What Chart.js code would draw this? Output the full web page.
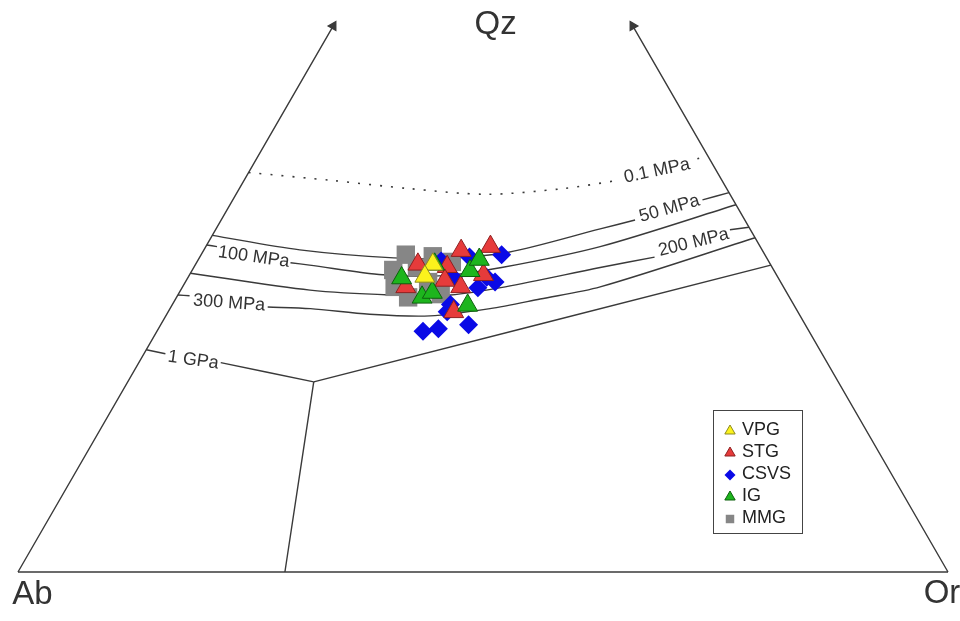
<!DOCTYPE html>
<html>
<head>
<meta charset="utf-8">
<title>Qz-Ab-Or</title>
<script src="https://cdn.jsdelivr.net/npm/chart.js@4.4.1/dist/chart.umd.min.js"></script>
<style>
  html, body { margin: 0; padding: 0; background: #fff; }
</style>
</head>
<body>
<canvas id="chart" width="960" height="621"></canvas>
<script>
// every point is [Qz, Or] in %, Ab = 100 - Qz - Or
const seriesNames = ['VPG', 'STG', 'CSVS', 'IG', 'MMG'];

const vpg = [[38.2, 25.5], [36.7, 25.4]];
const stg = [[38.2, 23.9], [37.9, 27.2], [39.9, 27.7], [40.4, 30.6], [36.2, 27.8],
             [35.4, 29.9], [36.9, 31.6], [35.4, 24.0], [32.3, 30.7]];
const csvs = [[29.9, 28.6], [30.2, 30.1], [30.7, 33.1], [33.2, 29.9], [32.3, 30.0], [35.3, 31.8],
              [36.0, 33.3], [39.4, 32.3], [39.1, 29.0], [38.6, 26.2], [36.6, 28.5], [36.6, 32.1]];
const ig = [[36.5, 23.0], [34.1, 26.4], [34.7, 27.2], [38.2, 25.7], [37.4, 29.9], [38.8, 30.2], [33.1, 31.8]];
const mmg = [[39.4, 22.0], [39.2, 25.0], [37.5, 21.6], [37.8, 24.0], [35.4, 22.8],
             [34.1, 24.9], [34.5, 28.2], [38.5, 27.4], [36.0, 26.1]];

// isobars, split where the label sits
const iso01 = [[[49.6, 0], [48.6, 9.6], [47.6, 18.3], [46.9, 26.9], [47.6, 34.8], [48.6, 40.1]],
               [[51.3, 47.4], [51.7, 48.3]]];
const iso50 = [[[41.8, 0], [40.0, 10.3], [39.0, 20.9], [39.0, 27.0], [39.7, 32.9], [42.6, 41.3], [43.7, 44.5]],
               [[46.2, 50.5], [47.1, 52.9]]];
const iso100 = [[[40.6, 0], [40.4, 1.2]],
                [[38.4, 10.1], [38.1, 12.3], [36.9, 20.8], [36.8, 27.5], [37.8, 33.1], [40.4, 42.4], [45.6, 54.4]]];
const iso200 = [[[37.1, 0], [35.0, 13.9], [34.4, 22.8], [34.4, 29.3], [35.4, 34.7], [37.8, 43.7], [39.1, 48.9]],
                [[42.5, 55.3], [42.8, 57.2]]];
const iso300 = [[[34.4, 0], [34.3, 1.3]],
                [[32.9, 10.4], [32.7, 15.1], [32.0, 21.8], [31.8, 28.4], [32.7, 34.4], [33.9, 39.2], [35.4, 44.9], [41.5, 58.5]]];
const iso1G = [[[27.6, 0], [27.1, 2.3]], [[26.0, 8.8], [23.6, 20.0]]];

// field boundaries and triangle sides
const baseLine = [[0, 0], [0, 100]];
const sideAb = [[0, 0], [67.8, 0]];
const sideOr = [[0, 100], [67.8, 32.2]];
const fieldLines = [[[23.6, 20.0], [0, 28.7]], [[23.6, 20.0], [38.1, 61.9]]];

const cornerNames = ['Qz', 'Ab', 'Or'];
const cornerPos = [[67.9, 17.4], [-2.9, 3.0], [-2.7, 100.7]];
const isobarNames = ['0.1 MPa', '50 MPa', '100 MPa', '200 MPa', '300 MPa', '1 GPa'];
const isobarPos = [[49.8, 43.8], [45.1, 47.5], [39.1, 5.8], [40.9, 52.2], [33.4, 6.0], [26.3, 5.7]];

const toXY = p => ({ x: p[1] + p[0] / 2, y: p[0] * Math.sqrt(3) / 2 });

const LINE = '#3a3a3a';
const FONT = '"Liberation Sans", Arial, sans-serif';

function lineSet(points, extra) {
  return Object.assign({
    data: points.map(toXY),
    showLine: true,
    borderColor: LINE,
    backgroundColor: LINE,
    borderWidth: 1.4,
    pointRadius: 0,
    tension: 0.3,
    order: 10
  }, extra || {});
}

const datasets = [];
[iso50, iso100, iso200, iso300, iso1G, fieldLines, [baseLine]].forEach(segs => {
  segs.forEach(s => datasets.push(lineSet(s)));
});
iso01.forEach(s => datasets.push(lineSet(s, { borderDash: [2, 9], borderWidth: 1.6 })));
datasets.push(lineSet(sideAb, {
  pointStyle: 'triangle', rotation: 30,
  pointRadius: c => c.dataIndex === 1 ? 5 : 0
}));
datasets.push(lineSet(sideOr, {
  pointStyle: 'triangle', rotation: -30,
  pointRadius: c => c.dataIndex === 1 ? 5 : 0
}));

const seriesStyle = {
  VPG:  { data: vpg,  pointStyle: 'triangle', pointRadius: 11.5, backgroundColor: '#fbf21c', borderColor: '#8d8a20', borderWidth: 1, order: 1 },
  STG:  { data: stg,  pointStyle: 'triangle', pointRadius: 11.5, backgroundColor: '#e63b3b', borderColor: '#8e2020', borderWidth: 1, order: 3 },
  CSVS: { data: csvs, pointStyle: 'rectRot',  pointRadius: 9.5,  backgroundColor: '#0a0ae6', borderColor: '#0a0ae6', borderWidth: 0, order: 4 },
  IG:   { data: ig,   pointStyle: 'triangle', pointRadius: 11.5, backgroundColor: '#1db51d', borderColor: '#0d600d', borderWidth: 1, order: 2 },
  MMG:  { data: mmg,  pointStyle: 'rect',     pointRadius: 13,   backgroundColor: '#868686', borderColor: '#868686', borderWidth: 0, order: 5 }
};
seriesNames.forEach(name => {
  const s = seriesStyle[name];
  datasets.push(Object.assign({}, s, { label: name, data: s.data.map(toXY) }));
});

// isobar and corner text, placed through the scales
const textPlugin = {
  id: 'ternaryText',
  afterDatasetsDraw(chart) {
    const { ctx, scales } = chart;
    const put = (text, pos, size, angle) => {
      const p = toXY(pos);
      ctx.save();
      ctx.translate(scales.x.getPixelForValue(p.x), scales.y.getPixelForValue(p.y));
      ctx.rotate(angle * Math.PI / 180);
      ctx.font = size + 'px ' + FONT;
      ctx.fillStyle = '#333';
      ctx.textAlign = 'center';
      ctx.textBaseline = 'middle';
      ctx.fillText(text, 0, 0);
      ctx.restore();
    };
    cornerNames.forEach((t, i) => put(t, cornerPos[i], 33, 0));
    const angles = [-12, -16, 8, -14, 4, 8];
    isobarNames.forEach((t, i) => put(t, isobarPos[i], 18, angles[i]));
  }
};

// boxed legend in the lower right
const legendPlugin = {
  id: 'boxLegend',
  afterDraw(chart) {
    const ctx = chart.ctx;
    const box = { x: 713, y: 410, w: 89, h: 123 };
    ctx.save();
    ctx.strokeStyle = '#444';
    ctx.lineWidth = 1;
    ctx.strokeRect(box.x + 0.5, box.y + 0.5, box.w, box.h);
    ctx.font = '18px ' + FONT;
    ctx.textBaseline = 'middle';
    seriesNames.forEach((name, i) => {
      const s = seriesStyle[name];
      const cy = box.y + 20 + i * 22;
      ctx.fillStyle = s.backgroundColor;
      ctx.strokeStyle = s.borderColor;
      ctx.lineWidth = s.borderWidth;
      Chart.helpers.drawPoint(ctx, {
        pointStyle: s.pointStyle,
        radius: s.pointStyle === 'rectRot' ? 5.5 : 6,
        rotation: 0,
        borderWidth: s.borderWidth
      }, box.x + 17, cy + 1);
      ctx.fillStyle = '#222';
      ctx.fillText(name, box.x + 29, cy);
    });
    ctx.restore();
  }
};

new Chart(document.getElementById('chart'), {
  type: 'scatter',
  data: { datasets: datasets },
  options: {
    responsive: false,
    animation: false,
    events: [],
    layout: { padding: 0, autoPadding: false },
    plugins: { legend: { display: false }, tooltip: { enabled: false } },
    scales: {
      x: { type: 'linear', display: false, min: -1.935, max: 101.29 },
      y: { type: 'linear', display: false, min: -5.269, max: 61.505 }
    }
  },
  plugins: [textPlugin, legendPlugin]
});
</script>
</body>
</html>
